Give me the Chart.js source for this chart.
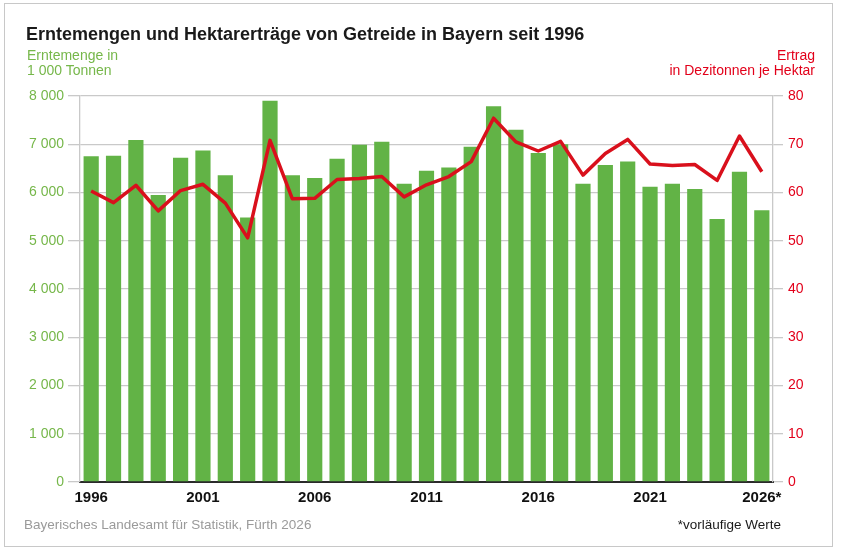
<!DOCTYPE html>
<html lang="de">
<head>
<meta charset="utf-8">
<title>Erntemengen und Hektarerträge von Getreide in Bayern</title>
<script src="https://cdn.jsdelivr.net/npm/chart.js@4.4.1/dist/chart.umd.min.js"></script>
<style>
  html, body {
    margin: 0;
    padding: 0;
    background: #fff;
    font-family: "Liberation Sans", Arial, sans-serif;
  }
  #wrap {
    position: relative;
    width: 841px;
    height: 555px;
    overflow: hidden;
  }
  #frame {
    position: absolute;
    left: 4px;
    top: 3px;
    width: 829px;
    height: 544px;
    border: 1px solid #c8c8c8;
    box-sizing: border-box;
  }
  #chart {
    position: absolute;
    left: 0;
    top: 0;
  }
  .txt {
    position: absolute;
    white-space: nowrap;
  }
  #title {
    left: 26px;
    top: 24px;
    font-size: 18px;
    font-weight: bold;
    color: #1a1a1a;
  }
  #unitLeft {
    left: 27px;
    top: 48px;
    font-size: 14px;
    line-height: 15px;
    color: #76b74a;
  }
  #unitRight {
    right: 26px;
    top: 48px;
    font-size: 14px;
    line-height: 15px;
    color: #e2001a;
    text-align: right;
  }
  #source {
    left: 24px;
    top: 517px;
    font-size: 13.5px;
    color: #9a9a9a;
  }
  #note {
    right: 60px;
    top: 517px;
    font-size: 13.5px;
    color: #1a1a1a;
  }
</style>
</head>
<body>
<div id="wrap">
  <div id="frame"></div>
  <canvas id="chart" width="841" height="555"></canvas>
  <div class="txt" id="title">Erntemengen und Hektarerträge von Getreide in Bayern seit 1996</div>
  <div class="txt" id="unitLeft">Erntemenge in<br>1 000 Tonnen</div>
  <div class="txt" id="unitRight">Ertrag<br>in Dezitonnen je Hektar</div>
  <div class="txt" id="source">Bayerisches Landesamt für Statistik, Fürth 2026</div>
  <div class="txt" id="note">*vorläufige Werte</div>
</div>

<script>
// Jahre (2026 vorläufig)
const years = [
  "1996", "1997", "1998", "1999", "2000", "2001", "2002", "2003", "2004", "2005",
  "2006", "2007", "2008", "2009", "2010", "2011", "2012", "2013", "2014", "2015",
  "2016", "2017", "2018", "2019", "2020", "2021", "2022", "2023", "2024", "2025",
  "2026*",
];

// Erntemenge in 1 000 Tonnen
const harvest = [
  6750, 6760, 7090, 5950, 6720, 6870, 6360, 5480, 7900, 6360,
  6300, 6700, 6990, 7050, 6180, 6450, 6520, 6950, 7790, 7300,
  6820, 7000, 6180, 6570, 6640, 6120, 6180, 6070, 5450, 6430,
  5630,
];

// Ertrag in Dezitonnen je Hektar
const yieldPerHa = [
  60.3, 57.9, 61.5, 56.2, 60.4, 61.7, 57.8, 50.6, 70.8, 58.7,
  58.8, 62.7, 62.9, 63.3, 59.1, 61.6, 63.3, 66.4, 75.4, 70.5,
  68.6, 70.6, 63.6, 68.1, 71.0, 65.9, 65.6, 65.8, 62.5, 71.7,
  64.3,
];

// Achsen
const leftTicks = [0, 1000, 2000, 3000, 4000, 5000, 6000, 7000, 8000];
const rightTicks = [0, 10, 20, 30, 40, 50, 60, 70, 80];
const labelEvery = 5;

const green = "#62b346";
const red = "#d9101c";
const gridGray = "#c9c9c9";

function fmtThousands(v) {
  return String(v).replace(/\B(?=(\d{3})+(?!\d))/g, " ");
}

function initChart() {
  const ctx = document.getElementById("chart");

  new Chart(ctx, {
    data: {
      labels: years,
      datasets: [
        {
          type: "line",
          label: "Ertrag",
          data: yieldPerHa,
          yAxisID: "y2",
          borderColor: red,
          borderWidth: 3.5,
          borderJoinStyle: "round",
          pointRadius: 0,
          tension: 0,
          order: 0,
        },
        {
          type: "bar",
          label: "Erntemenge",
          data: harvest,
          yAxisID: "y",
          backgroundColor: green,
          barPercentage: 0.68,
          categoryPercentage: 1,
          order: 1,
        },
      ],
    },
    options: {
      responsive: false,
      animation: false,
      layout: {
        padding: { top: 96, left: 0, right: 0, bottom: 0 },
      },
      plugins: {
        legend: { display: false },
        tooltip: { enabled: false },
      },
      scales: {
        x: {
          offset: true,
          grid: { display: false, drawTicks: false },
          border: { display: true, color: "#2a2a2a", width: 2 },
          ticks: {
            autoSkip: false,
            maxRotation: 0,
            padding: 7,
            color: "#111",
            font: { family: "Liberation Sans", size: 15, weight: "bold" },
            callback: function (value, index) {
              return index % labelEvery === 0 ? years[index] : "";
            },
          },
          afterFit: function (scale) {
            scale.height = 73;
          },
        },
        y: {
          position: "left",
          min: leftTicks[0],
          max: leftTicks[leftTicks.length - 1],
          afterBuildTicks: function (scale) {
            scale.ticks = leftTicks.map((v) => ({ value: v }));
          },
          grid: {
            color: gridGray,
            lineWidth: 1.3,
            tickLength: 12,
          },
          border: { color: gridGray, width: 1.3 },
          ticks: {
            padding: 4,
            color: "#76b74a",
            font: { family: "Liberation Sans", size: 14 },
            callback: function (value) {
              return fmtThousands(value);
            },
          },
          afterFit: function (scale) {
            scale.width = 80;
          },
        },
        y2: {
          position: "right",
          min: rightTicks[0],
          max: rightTicks[rightTicks.length - 1],
          afterBuildTicks: function (scale) {
            scale.ticks = rightTicks.map((v) => ({ value: v }));
          },
          grid: {
            drawOnChartArea: false,
            color: gridGray,
            lineWidth: 1.3,
            tickLength: 10,
          },
          border: { color: gridGray, width: 1.3 },
          ticks: {
            padding: 5,
            color: "#e2001a",
            font: { family: "Liberation Sans", size: 14 },
          },
          afterFit: function (scale) {
            scale.width = 68;
          },
        },
      },
    },
  });
}

document.addEventListener("DOMContentLoaded", initChart);
</script>
</body>
</html>
